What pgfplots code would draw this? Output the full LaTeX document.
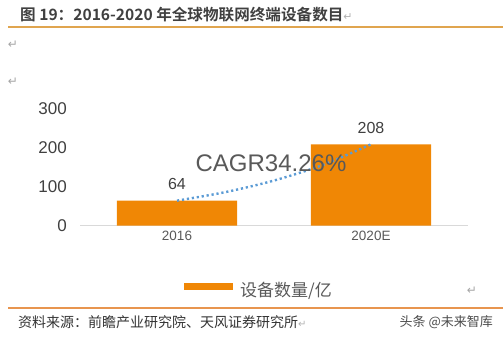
\documentclass[border=0pt]{standalone}
\usepackage{fontspec}
\setmainfont{Liberation Sans}
\newfontfamily\cjk{Noto Sans CJK SC}
\newfontfamily\cjkb{Noto Sans CJK SC Bold}
\newfontfamily\sym{DejaVu Sans}
\usepackage{pgfplots}
\pgfplotsset{compat=1.18}
\definecolor{barorange}{HTML}{F08705}
\definecolor{trendblue}{HTML}{5B9BD5}
\definecolor{txtgray}{HTML}{595959}
\definecolor{ticktxt}{HTML}{404040}
\definecolor{lineorange}{HTML}{E0A54F}
\definecolor{lineorange2}{HTML}{E8954F}
\definecolor{axisgray}{HTML}{D9D9D9}
\begin{document}
\begin{tikzpicture}[x=1pt,y=1pt]
\useasboundingbox (0,0) rectangle (503,340);
% title
\node[anchor=west, text=ticktxt, inner sep=0pt] at (20,325) {\fontsize{15.6}{15.6}\selectfont\cjkb 图 19：2016-2020 年全球物联网终端设备数目\textcolor{gray!60}{\sym\fontsize{11}{11}\selectfont ↵}};
\draw[lineorange, line width=1.2pt] (8,313) -- (503,313);
\node[text=gray!70, inner sep=0pt] at (13,295) {\sym\fontsize{12}{12}\selectfont ↵};
\node[text=gray!70, inner sep=0pt] at (13,258) {\sym\fontsize{12}{12}\selectfont ↵};
\begin{axis}[
  at={(80pt,114.3pt)}, anchor=south west,
  scale only axis, width=388pt, height=117.4pt,
  xmin=-0.5, xmax=1.5, ymin=0, ymax=300,
  axis y line=none, axis x line*=bottom,
  x axis line style={axisgray, line width=1.5pt, -},
  xtick={0,1}, xticklabels={2016,2020E},
  xtick style={draw=none},
  ytick=\empty,
  /pgf/number format/assume math mode=true,
  x tick label style={text=txtgray, font=\fontsize{13.5}{13.5}\selectfont, yshift=-2pt},
  clip=false,
  ]
\addplot[ybar, bar width=0.62, fill=barorange, draw=none, bar shift=0pt,
  nodes near coords, nodes near coords style={text=ticktxt, font=\fontsize{16}{16}\selectfont, anchor=south, yshift=7pt}]
  coordinates {(0,64) (1,208)};
\addplot[smooth, trendblue, line width=2.4pt, dash pattern=on 2.2pt off 2.8pt, line cap=butt]
  coordinates {(0,64) (0.25,85.9) (0.5,115.4) (0.75,154.9) (1,208)};
\end{axis}
% y tick labels
\foreach \v/\py in {0/225.7,100/186.6,200/147.5,300/108.3}{
  \node[anchor=east, text=ticktxt, inner sep=0pt] at (67,340-\py) {\fontsize{17}{17}\selectfont \v};
}
\node[text=txtgray, inner sep=0pt] at (271,177) {\fontsize{24}{24}\selectfont CAGR34.26\%};
% legend
\fill[barorange] (184,50) rectangle (233,57);
\node[anchor=west, text=txtgray, inner sep=0pt] at (240,49) {\cjk\fontsize{17}{17}\selectfont 设备数量/亿};
\node[text=gray!70, inner sep=0pt] at (472,49) {\sym\fontsize{12}{12}\selectfont ↵};
\draw[lineorange2, line width=1.2pt] (8,32) -- (503,32);
\node[anchor=west, text=black!80, inner sep=0pt] at (18,18) {\cjk\fontsize{14}{14}\selectfont 资料来源：前瞻产业研究院、天风证券研究所\textcolor{gray!60}{\sym\fontsize{10}{10}\selectfont ↵}};
\node[anchor=east, text=black!70, inner sep=0pt] at (493,18) {\cjk\fontsize{13}{13}\selectfont 头条 @未来智库};
\end{tikzpicture}
\end{document}
